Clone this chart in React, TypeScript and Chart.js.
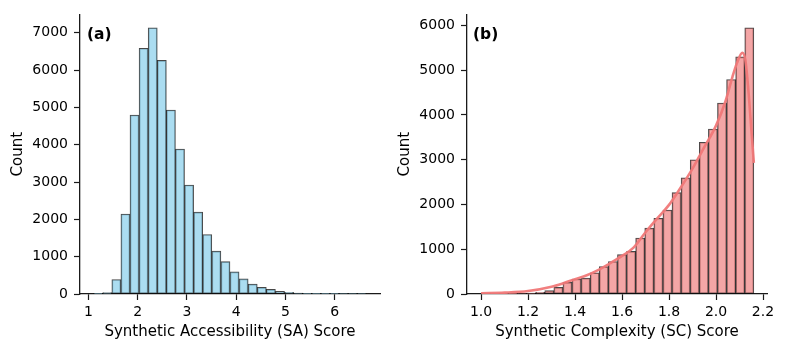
import React, { useEffect, useRef } from 'react';
import { Chart, registerables } from 'chart.js';

Chart.register(...registerables);

// ---- Panel (a): Synthetic Accessibility (SA) score histogram ----
const saBinStart = 1.107;
const saBinWidth = 0.1845;
const saCounts = [
  8, 35, 389, 2142, 4796, 6584, 7133, 6257, 4929, 3885,
  2920, 2195, 1593, 1150, 867, 593, 407, 265, 177, 122,
  71, 44, 27, 16, 9, 5, 3, 2, 1, 1,
];
const saXTicks = [1, 2, 3, 4, 5, 6];
const saYTicks = [0, 1000, 2000, 3000, 4000, 5000, 6000, 7000];

// ---- Panel (b): Synthetic Complexity (SC) score histogram + KDE ----
const scBinStart = 1.0;
const scBinWidth = 0.0387;
const scCounts = [
  3, 4, 6, 8, 12, 22, 40, 75, 147, 258,
  335, 355, 475, 610, 725, 878, 951, 1250, 1470, 1692,
  1876, 2263, 2595, 2999, 3390, 3685, 4267, 4790, 5298, 5947,
];
const scKdeX = [
  1.0, 1.1, 1.2, 1.3, 1.35, 1.4, 1.45, 1.5, 1.55, 1.6,
  1.65, 1.7, 1.75, 1.8, 1.85, 1.9, 1.95, 2.0, 2.04, 2.07,
  2.09, 2.112, 2.125, 2.14, 2.15, 2.161,
];
const scKdeY = [
  15, 30, 66, 162, 240, 330, 420, 540, 690, 850,
  1040, 1380, 1690, 1990, 2380, 2800, 3280, 3760, 4300, 4850,
  5170, 5390, 5220, 4400, 3700, 2930,
];
const scXTicks = [1.0, 1.2, 1.4, 1.6, 1.8, 2.0, 2.2];
const scYTicks = [0, 1000, 2000, 3000, 4000, 5000, 6000];

const FONT = '"DejaVu Sans", "Liberation Sans", sans-serif';
const AXIS_COLOR = '#1a1a1a';
const TICK_SIZE = 14;
const TITLE_SIZE = 15;

const panelLabel = {
  id: 'panelLabel',
  afterDraw(chart: any, _args: any, opts: any) {
    const { ctx, chartArea } = chart;
    ctx.save();
    ctx.font = `bold 15.5px ${FONT}`;
    ctx.fillStyle = '#000';
    ctx.textBaseline = 'middle';
    ctx.textAlign = 'left';
    ctx.fillText(opts.text, chartArea.left + opts.dx, chartArea.top + opts.dy);
    ctx.restore();
  },
};

function axisCommon() {
  return {
    offset: false,
    grid: {
      display: true,
      offset: false,
      drawOnChartArea: false,
      drawTicks: true,
      tickLength: 6,
      tickWidth: 1.2,
      tickColor: AXIS_COLOR,
    },
    border: { display: true, color: AXIS_COLOR, width: 1.3 },
  };
}

function makeConfig(p: {
  datasets: any[];
  xMin: number;
  xMax: number;
  xTicks: number[];
  xFmt: (v: number) => string;
  yMax: number;
  yTicks: number[];
  xTitle: string;
  yAxisWidth: number;
  yTitlePad: number;
  padRight: number;
  label: string;
  labelDx: number;
}) {
  return {
    type: 'bar' as const,
    data: { datasets: p.datasets },
    options: {
      animation: false,
      responsive: false,
      maintainAspectRatio: false,
      layout: { padding: { left: 0, right: p.padRight, top: 12, bottom: 0 } },
      plugins: {
        legend: { display: false },
        tooltip: { enabled: false },
        panelLabel: { text: p.label, dx: p.labelDx, dy: 21 },
      },
      scales: {
        x: {
          type: 'linear',
          ...axisCommon(),
          min: p.xMin,
          max: p.xMax,
          afterBuildTicks: (s: any) => {
            s.ticks = p.xTicks.map((v) => ({ value: v }));
          },
          afterFit: (s: any) => {
            s.height = 59;
          },
          ticks: {
            autoSkip: false,
            maxRotation: 0,
            padding: 4,
            color: '#000',
            font: { family: FONT, size: TICK_SIZE },
            callback: (v: any) => p.xFmt(Number(v)),
          },
          title: {
            display: true,
            text: p.xTitle,
            color: '#000',
            font: { family: FONT, size: TITLE_SIZE },
            padding: { top: 0, bottom: 12 },
          },
        },
        y: {
          type: 'linear',
          ...axisCommon(),
          min: 0,
          max: p.yMax,
          afterBuildTicks: (s: any) => {
            s.ticks = p.yTicks.map((v) => ({ value: v }));
          },
          afterFit: (s: any) => {
            s.width = p.yAxisWidth;
          },
          ticks: {
            autoSkip: false,
            padding: 6,
            color: '#000',
            font: { family: FONT, size: TICK_SIZE },
            callback: (v: any) => String(v),
          },
          title: {
            display: true,
            text: 'Count',
            color: '#000',
            font: { family: FONT, size: TITLE_SIZE },
            padding: { top: p.yTitlePad, bottom: 0 },
          },
        },
      },
    },
    plugins: [panelLabel],
  };
}

export default function App() {
  const leftRef = useRef<HTMLCanvasElement>(null);
  const rightRef = useRef<HTMLCanvasElement>(null);

  useEffect(() => {
    const saBars = {
      type: 'bar',
      order: 1,
      data: saCounts.map((c, i) => ({ x: saBinStart + (i + 0.5) * saBinWidth, y: c })),
      backgroundColor: 'rgba(135, 206, 235, 0.7)',
      borderColor: 'rgba(0, 0, 0, 0.72)',
      borderWidth: 1,
      borderSkipped: false,
      barPercentage: 1,
      categoryPercentage: 1,
    };
    const scBars = {
      type: 'bar',
      order: 1,
      data: scCounts.map((c, i) => ({ x: scBinStart + (i + 0.5) * scBinWidth, y: c })),
      backgroundColor: 'rgba(240, 128, 128, 0.7)',
      borderColor: 'rgba(0, 0, 0, 0.72)',
      borderWidth: 1,
      borderSkipped: false,
      barPercentage: 1,
      categoryPercentage: 1,
    };
    const scKde = {
      type: 'line',
      order: 0,
      data: scKdeX.map((x, i) => ({ x, y: scKdeY[i] })),
      borderColor: 'rgba(240, 120, 120, 0.95)',
      borderWidth: 2.6,
      pointRadius: 0,
      fill: false,
      cubicInterpolationMode: 'monotone',
    };

    const left = new Chart(
      leftRef.current as HTMLCanvasElement,
      makeConfig({
        datasets: [saBars],
        xMin: 0.83,
        xMax: 6.92,
        xTicks: saXTicks,
        xFmt: (v) => String(Math.round(v)),
        yMax: 7490,
        yTicks: saYTicks,
        xTitle: 'Synthetic Accessibility (SA) Score',
        yAxisWidth: 80,
        yTitlePad: 9,
        padRight: 12,
        label: '(a)',
        labelDx: 7,
      }) as any
    );
    const right = new Chart(
      rightRef.current as HTMLCanvasElement,
      makeConfig({
        datasets: [scBars, scKde],
        xMin: 0.94,
        xMax: 2.217,
        xTicks: scXTicks,
        xFmt: (v) => v.toFixed(1),
        yMax: 6245,
        yTicks: scYTicks,
        xTitle: 'Synthetic Complexity (SC) Score',
        yAxisWidth: 75,
        yTitlePad: 4.5,
        padRight: 18,
        label: '(b)',
        labelDx: 6,
      }) as any
    );
    return () => {
      left.destroy();
      right.destroy();
    };
  }, []);

  return (
    <div style={{ position: 'absolute', left: 0, top: 0, width: 785, height: 353, background: '#fff' }}>
      <canvas
        ref={leftRef}
        width={392}
        height={353}
        style={{ position: 'absolute', left: 0, top: 0, width: 392, height: 353 }}
      />
      <canvas
        ref={rightRef}
        width={393}
        height={353}
        style={{ position: 'absolute', left: 392, top: 0, width: 393, height: 353 }}
      />
    </div>
  );
}
